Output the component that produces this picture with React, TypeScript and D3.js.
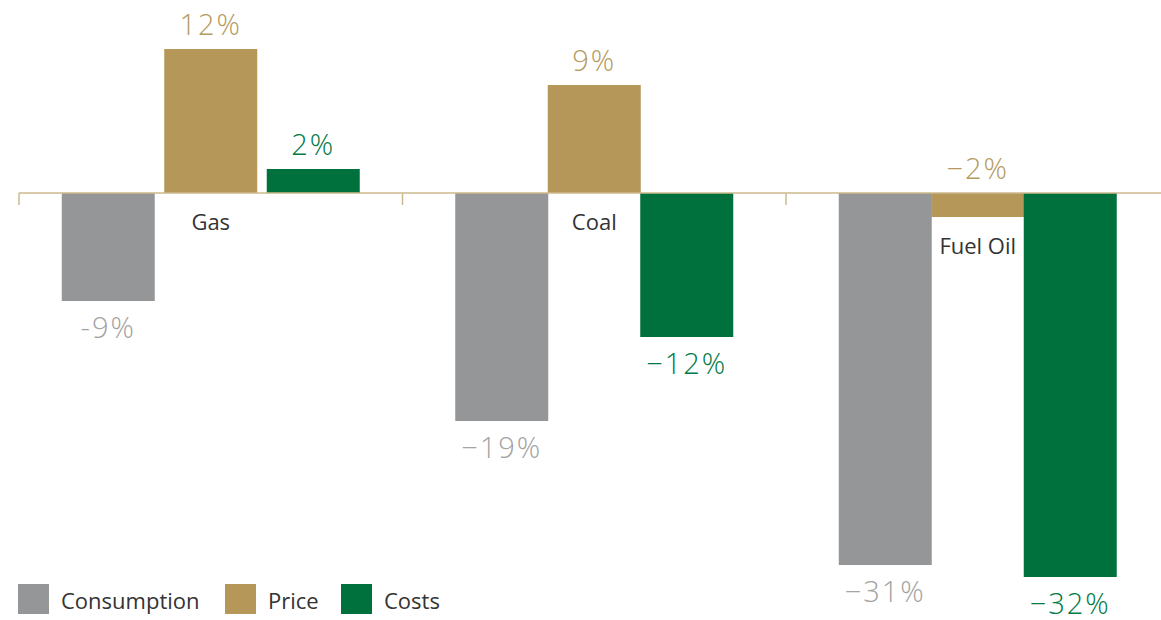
import { useMemo } from "react";
import * as d3 from "d3";

const WIDTH = 1161;
const HEIGHT = 620;

// data
const categories = ["Gas", "Coal", "Fuel Oil"];
const seriesNames = ["Consumption", "Price", "Costs"];
const consumption = [-9, -19, -31];
const price = [12, 9, -2];
const costs = [2, -12, -32];
// value labels as printed (the first one uses a hyphen in the original)
const consumptionLabels = ["-9%", "\u221219%", "\u221231%"];
const priceLabels = ["12%", "9%", "\u22122%"];
const costsLabels = ["2%", "\u221212%", "\u221232%"];

const COLORS = ["#959698", "#b49759", "#00703c"];
const TEXT_COLORS = ["#a3a3a3", "#b59a5e", "#007a45"];
const FONT = "'Open Sans', 'Noto Sans', sans-serif";

const App = () => {
    // Layout
    const x0 = 19;
    const groupWidth = 383.5;
    const barWidth = 93;

    const xScale = useMemo(
        () => d3.scaleBand<string>().domain(categories).range([x0, x0 + groupWidth * 3]),
        []
    );
    const yScale = useMemo(() => d3.scaleLinear().domain([-32, 12]).range([577, 49]), []);

    const values = [consumption, price, costs];
    const labels = [consumptionLabels, priceLabels, costsLabels];

    // the gas bars stand apart, the others touch
    const innerGap = (i: number) => (i === 0 ? 9.5 : -0.5);

    const shapes = categories.map((cat, ci) => {
        const center = (xScale(cat) as number) + xScale.bandwidth() / 2;
        const gap = innerGap(ci);
        const span = barWidth * 3 + gap * 2;
        const inner = d3
            .scaleBand<string>()
            .domain(seriesNames)
            .range([center - span / 2, center + span / 2])
            .paddingInner(gap / (barWidth + gap));
        const y0 = yScale(0);
        return (
            <g key={cat}>
                {seriesNames.map((s, si) => {
                    const v = values[si][ci];
                    const top = yScale(Math.max(0, v));
                    const bottom = yScale(Math.min(0, v));
                    const bx = inner(s) as number;
                    const cx = bx + inner.bandwidth() / 2;
                    // price labels always sit above the axis, the category name goes below
                    const above = v >= 0 || si === 1;
                    const ly = above ? top - 14 : bottom + 37;
                    return (
                        <g key={s}>
                            <rect x={bx} y={top} width={inner.bandwidth()} height={Math.max(0, bottom - top)} fill={COLORS[si]} />
                            <text
                                x={cx}
                                y={ly}
                                textAnchor="middle"
                                fontSize={29}
                                fontWeight={300}
                                letterSpacing={2}
                                fill={TEXT_COLORS[si]}
                            >
                                {labels[si][ci]}
                            </text>
                            {si === 1 && (
                                <text x={cx} y={Math.max(y0, bottom) + 37} textAnchor="middle" fontSize={22} fill="#333">
                                    {cat}
                                </text>
                            )}
                        </g>
                    );
                })}
            </g>
        );
    });

    const y0 = yScale(0);

    return (
        <svg
            width={WIDTH}
            height={HEIGHT}
            style={{ position: "absolute", left: 0, top: 0, background: "white", fontFamily: FONT }}
        >
            {shapes}
            {/* axis line with category separators */}
            <line x1={x0} x2={WIDTH} y1={y0} y2={y0} stroke="#cdb88c" strokeWidth={1.5} />
            {categories.map((c) => (
                <line
                    key={c}
                    x1={xScale(c)}
                    x2={xScale(c)}
                    y1={y0}
                    y2={y0 + 12}
                    stroke="#cdb88c"
                    strokeWidth={1.5}
                />
            ))}
            {/* legend */}
            <g transform="translate(18,584)">
                {seriesNames.map((s, i) => {
                    const lx = [0, 207, 323][i];
                    return (
                        <g key={s} transform={`translate(${lx},0)`}>
                            <rect width={31} height={30} fill={COLORS[i]} />
                            <text x={43} y={25} fontSize={22} fill="#333">
                                {s}
                            </text>
                        </g>
                    );
                })}
            </g>
        </svg>
    );
};

export default App;
